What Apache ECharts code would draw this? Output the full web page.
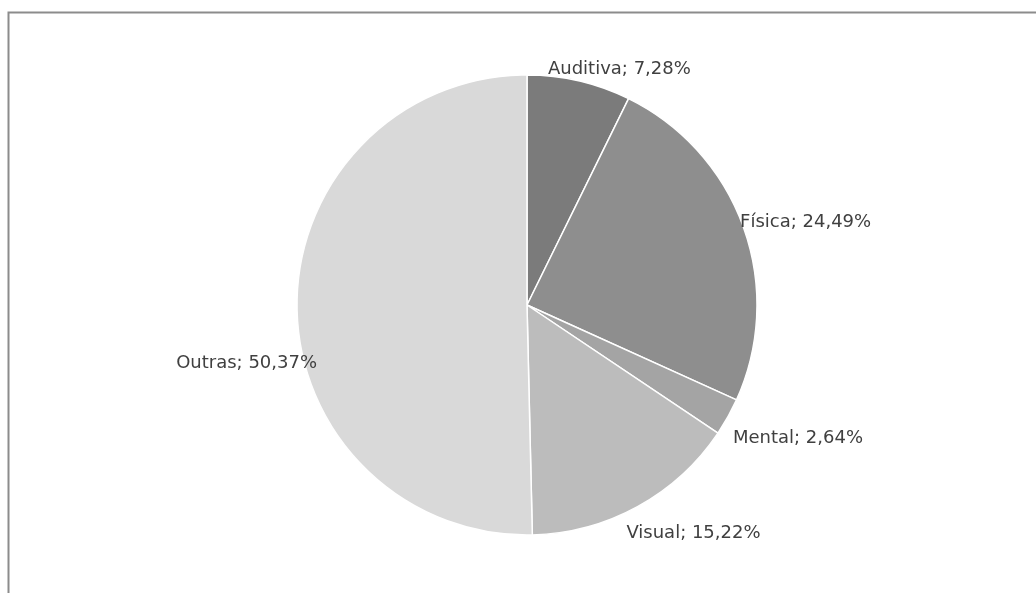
<!DOCTYPE html>
<html>
<head>
    <meta charset="utf-8">
    <title>ECharts</title>
    <script src="https://cdn.jsdelivr.net/npm/echarts@6/dist/echarts.min.js"></script>
</head>
<body style="margin:0">
    <div id="main" style="width: 1036px;height:593px;"></div>
    <script type="text/javascript">
        var categories = ['Auditiva', 'Física', 'Mental', 'Visual', 'Outras'];
        var values = [7.28, 24.49, 2.64, 15.22, 50.37];
        var colors = ['#7b7b7b', '#8e8e8e', '#a4a4a4', '#bcbcbc', '#d9d9d9'];

        // nudges so labels sit where Excel's "best fit" put them
        var labelShift = [[-38, -4], [-16, -2], [-7, 17], [-20, 20], [33, 56]];

        var myChart = echarts.init(document.getElementById('main'));

        option = {
            backgroundColor: '#fff',
            animation: false,
            graphic: [{
                type: 'rect',
                shape: { x: 8.5, y: 12.5, width: 1100, height: 700 },
                style: { fill: 'none', stroke: '#8c8c8c', lineWidth: 2 }
            }],
            series: [{
                type: 'pie',
                center: [527, 305],
                radius: [0, 230],
                startAngle: 90,
                clockwise: true,
                itemStyle: { borderColor: '#fff', borderWidth: 1.5 },
                label: {
                    show: true,
                    position: 'outside',
                    fontFamily: 'DejaVu Sans',
                    fontSize: 18,
                    color: '#404040',
                    formatter: function (p) {
                        return p.name + '; ' + p.value.toFixed(2).replace('.', ',') + '%';
                    }
                },
                labelLine: { show: false, length: 8, length2: 0 },
                labelLayout: function (params) {
                    var s = labelShift[params.dataIndex];
                    return { dx: s[0], dy: s[1] };
                },
                data: categories.map(function (name, i) {
                    return { name: name, value: values[i], itemStyle: { color: colors[i] } };
                })
            }]
        };

        myChart.setOption(option);
    </script>
</body>
</html>
